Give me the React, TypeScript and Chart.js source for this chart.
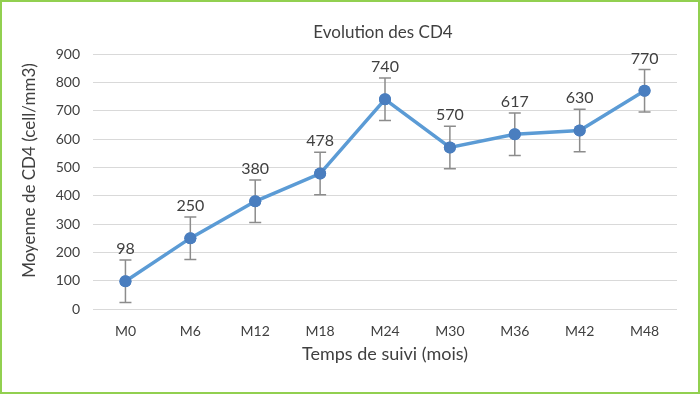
import React, { useEffect, useRef } from "react";
import { Chart, registerables } from "chart.js";

Chart.register(...registerables);

const categories = ["M0", "M6", "M12", "M18", "M24", "M30", "M36", "M42", "M48"];
const meanCD4 = [98, 250, 380, 478, 740, 570, 617, 630, 770];
const errorMargin = [75, 75, 75, 75, 75, 75, 75, 75, 75];
const yTicks = [0, 100, 200, 300, 400, 500, 600, 700, 800, 900];
const chartTitle = "Evolution des CD4";
const yTitle = "Moyenne de CD4 (cell/mm3)";
const xTitle = "Temps de suivi (mois)";

const FONT = "Lato, 'Open Sans', sans-serif";

const errorBarsPlugin = {
  id: "errorBars",
  afterDatasetsDraw(chart: any) {
    const ctx = chart.ctx;
    const meta = chart.getDatasetMeta(0);
    const yScale = chart.scales.y;
    const area = chart.chartArea;
    ctx.save();
    ctx.strokeStyle = "#8c8c8c";
    ctx.lineWidth = 1.5;
    meta.data.forEach((pt: any, i: number) => {
      const x = pt.x;
      const top = yScale.getPixelForValue(meanCD4[i] + errorMargin[i]);
      const bottom = yScale.getPixelForValue(meanCD4[i] - errorMargin[i]);
      ctx.beginPath();
      ctx.moveTo(x, top);
      ctx.lineTo(x, bottom);
      ctx.moveTo(x - 6, top);
      ctx.lineTo(x + 6, top);
      ctx.moveTo(x - 6, bottom);
      ctx.lineTo(x + 6, bottom);
      ctx.stroke();
    });
    // redraw points on top of error bars
    meta.data.forEach((pt: any) => {
      ctx.beginPath();
      ctx.fillStyle = "#4a7ebf";
      ctx.arc(pt.x, pt.y, 6, 0, Math.PI * 2);
      ctx.fill();
    });
    // data labels
    ctx.fillStyle = "#404040";
    ctx.font = `16px ${FONT}`;
    ctx.textAlign = "center";
    ctx.textBaseline = "middle";
    meta.data.forEach((pt: any, i: number) => {
      const top = yScale.getPixelForValue(meanCD4[i] + errorMargin[i]);
      ctx.fillText(String(meanCD4[i]), pt.x, top - 11);
    });
    // chart title, centred on the plot area
    ctx.font = `17px ${FONT}`;
    ctx.fillText(chartTitle, (area.left + area.right) / 2 - 2, area.top - 21);
    // y axis title
    ctx.translate(28, (area.top + area.bottom) / 2 - 11);
    ctx.rotate(-Math.PI / 2);
    ctx.font = `17px ${FONT}`;
    ctx.fillText(yTitle, 0, 0);
    ctx.restore();
  },
};

export default function App() {
  const ref = useRef<HTMLCanvasElement>(null);
  useEffect(() => {
    if (!ref.current) return;
    const chart = new Chart(ref.current, {
      type: "line",
      data: {
        labels: categories,
        datasets: [
          {
            data: meanCD4,
            borderColor: "#5b9bd5",
            backgroundColor: "#4a7ebf",
            borderWidth: 3.5,
            pointRadius: 6,
            pointBorderWidth: 0,
            pointBackgroundColor: "#4a7ebf",
            tension: 0,
          },
        ],
      },
      options: {
        responsive: false,
        animation: false,
        layout: { padding: { left: 15, right: 21, top: 52, bottom: 26 } },
        plugins: {
          legend: { display: false },
          tooltip: { enabled: false },
          title: { display: false },
        },
        scales: {
          x: {
            offset: true,
            grid: { display: false, drawTicks: false },
            border: { display: false },
            ticks: {
              color: "#404040",
              font: { family: FONT, size: 14 },
              padding: 14,
            },
            title: {
              display: true,
              text: xTitle,
              color: "#404040",
              font: { family: FONT, size: 18 },
              padding: { top: 4, bottom: 1 },
            },
            afterFit(scale: any) {
              scale.height = 57;
            },
          },
          y: {
            min: 0,
            max: 900,
            afterBuildTicks(scale: any) {
              scale.ticks = yTicks.map((v) => ({ value: v }));
            },
            grid: { color: "#d9d9d9", lineWidth: 1, drawTicks: false },
            border: { display: false },
            ticks: {
              color: "#404040",
              font: { family: FONT, size: 14 },
              padding: 13,
            },
            title: { display: false },
            afterFit(scale: any) {
              scale.width = 76;
            },
          },
        },
      },
      plugins: [errorBarsPlugin],
    });
    return () => chart.destroy();
  }, []);
  return (
    <div
      style={{
        position: "fixed",
        left: 0,
        top: 0,
        width: 700,
        height: 394,
        boxSizing: "border-box",
        border: "2px solid #92d050",
        background: "#fff",
      }}
    >
      <canvas ref={ref} width={696} height={390} style={{ display: "block" }} />
    </div>
  );
}
